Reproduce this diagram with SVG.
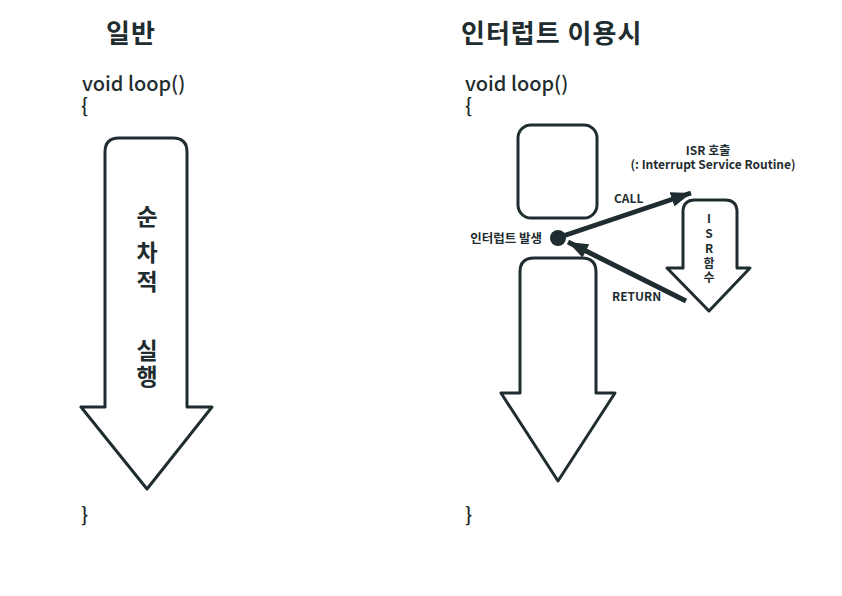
<svg xmlns="http://www.w3.org/2000/svg" width="842" height="596" viewBox="0 0 842 596">
<style>
text{font-family:"Noto Sans CJK KR","Noto Sans",sans-serif;fill:#1f2d30}
.t{font-size:26px;font-weight:bold;letter-spacing:1px}
.c{font-size:20px;font-weight:500}
.s{fill:#fff;stroke:#1f2d30;stroke-width:3;stroke-linejoin:round}
.l{fill:none;stroke:#1f2d30;stroke-width:5}
.b{font-size:23px;font-weight:bold;text-anchor:middle}
.m{font-size:12px;font-weight:bold}
</style>
<defs>
<marker id="ah" markerWidth="4" markerHeight="3" refX="4" refY="1.5" orient="auto" markerUnits="strokeWidth">
<path d="M0,0 L4,1.5 L0,3 Z" fill="#1f2d30"/>
</marker>
</defs>
<rect width="842" height="596" fill="#fff"/>
<g id="left">
<text class="t" x="106" y="43">일반</text>
<text class="c" x="82" y="91">void loop()</text>
<text class="c" x="81" y="113">{</text>
<text class="c" x="81" y="522">}</text>
</g>
<g id="seqArrow">
<path class="s" d="M105,407 V152 Q105,138 119,138 H173 Q187,138 187,152 V407 H212 L147,489 L81,407 Z"/>
<text class="b" x="147" y="225">순</text>
<text class="b" x="147" y="261">차</text>
<text class="b" x="147" y="290">적</text>
<text class="b" x="147" y="359">실</text>
<text class="b" x="147" y="385">행</text>
</g>
<g id="right">
<text class="t" x="461" y="43">인터럽트 이용시</text>
<text class="c" x="465" y="91">void loop()</text>
<text class="c" x="465" y="113">{</text>
<text class="c" x="465" y="522">}</text>
</g>
<g id="topBox">
<rect class="s" x="518" y="125" width="79" height="93" rx="13"/>
</g>
<g id="mainArrow">
<path class="s" d="M520,393 V272 Q520,258 534,258 H582 Q596,258 596,272 V393 H615 L558,481 L501,393 Z"/>
</g>
<g id="isrArrow">
<path class="s" d="M683,268 V212 Q683,200 695,200 H725 Q737,200 737,212 V268 H750 L709,311 L667,268 Z"/>
<g class="m" text-anchor="middle">
<text x="709" y="223">I</text>
<text x="709" y="238">S</text>
<text x="709" y="253">R</text>
<text x="709" y="268">함</text>
<text x="709" y="282">수</text>
</g>
</g>
<g id="interrupt">
<circle cx="558" cy="238" r="8" fill="#1f2d30"/>
<text class="m" x="542" y="243" text-anchor="end" style="font-size:12.5px">인터럽트 발생</text>
</g>
<g id="connectors">
<line class="l" x1="560" y1="237" x2="691" y2="193" marker-end="url(#ah)"/>
<line class="l" x1="686" y1="301" x2="568" y2="242" marker-end="url(#ah)"/>
</g>
<g id="labels">
<text class="m" x="708" y="155" text-anchor="middle">ISR 호출</text>
<text class="m" x="713" y="169" text-anchor="middle">(: Interrupt Service Routine)</text>
<text class="m" x="614" y="203">CALL</text>
<text class="m" x="612" y="301">RETURN</text>
</g>
</svg>
